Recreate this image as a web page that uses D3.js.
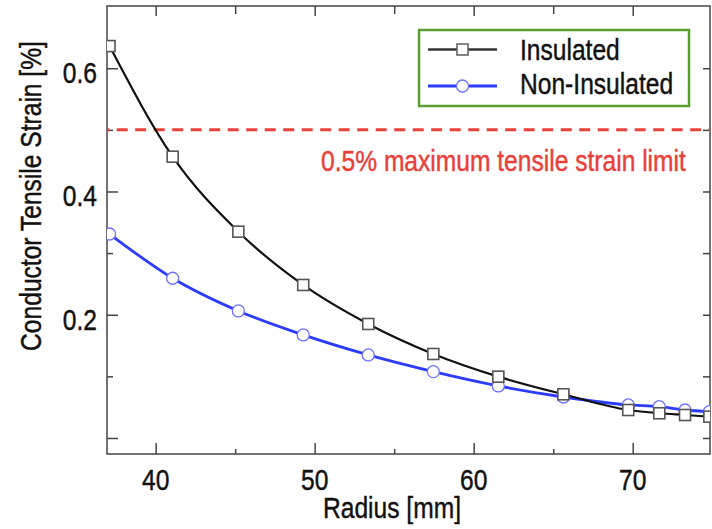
<!DOCTYPE html>
<html><head><meta charset="utf-8">
<script src="https://cdn.jsdelivr.net/npm/d3@7/dist/d3.min.js"></script>
<style>
html,body{margin:0;padding:0;background:#fff;}
svg{display:block;}
text{font-family:"Liberation Sans",Arial,Helvetica,sans-serif;}
</style></head>
<body>
<svg id="chart" width="712" height="529"></svg>
<script>
// ---- data ----
const radius = [37.1, 41.07, 45.2, 49.28, 53.37, 57.46, 61.55, 65.64, 69.72, 71.67, 73.29, 74.82];
const insulated = [0.636, 0.4565, 0.3348, 0.2483, 0.185, 0.1363, 0.0995, 0.0709, 0.0454, 0.0401, 0.0373, 0.0346];
const nonInsulated = [0.331, 0.2592, 0.2061, 0.1672, 0.1347, 0.1076, 0.0844, 0.0665, 0.0536, 0.0508, 0.0454, 0.0427];
const strainLimit = 0.5;
const xMajorTicks = [40, 50, 60, 70];
const xMinorTicks = [45, 55, 65];
const yMajorTicks = [0, 0.2, 0.4, 0.6];
const yMinorTicks = [0.1, 0.3, 0.5];
const yTickLabels = [0.2, 0.4, 0.6];
const seriesNames = ["Insulated", "Non-Insulated"];
const limitLabel = "0.5% maximum tensile strain limit";
const xTitle = "Radius [mm]";
const yTitle = "Conductor Tensile Strain [%]";

// ---- layout ----
const L = 107, R = 710, T = 6, B = 454;
const FS = 30, SX = 0.82;
const svg = d3.select("#chart");
const x = d3.scaleLinear().domain([36.94, 74.86]).range([L, R]);
const y = d3.scaleLinear().domain([-0.026, 0.701]).range([B, T]);

function stxt(parent, px, py, str, anchor, color, extra) {
  const g = parent.append("g").attr("transform", `translate(${px},${py}) ${extra||""} scale(${SX},1)`);
  g.append("text").attr("x", 0).attr("y", 0).attr("text-anchor", anchor)
    .attr("font-size", FS).attr("fill", color)
    .attr("stroke", color).attr("stroke-width", 0.45).text(str);
  return g;
}

svg.append("defs").append("clipPath").attr("id", "clip")
  .append("rect").attr("x", L).attr("y", T).attr("width", R - L).attr("height", B - T);

// ---- ticks via axes ----
function tickAxis(axisGen, tr) {
  const g = svg.append("g").attr("transform", tr).call(axisGen);
  g.select(".domain").remove();
  g.selectAll(".tick line").attr("stroke", "#444").attr("stroke-width", 1.5);
  g.selectAll(".tick text").remove();
  return g;
}
tickAxis(d3.axisBottom(x).tickValues(xMajorTicks).tickSize(-11), `translate(0,${B})`);
tickAxis(d3.axisBottom(x).tickValues(xMinorTicks).tickSize(-5), `translate(0,${B})`);
tickAxis(d3.axisTop(x).tickValues(xMajorTicks).tickSize(-10), `translate(0,${T})`);
tickAxis(d3.axisTop(x).tickValues(xMinorTicks).tickSize(-8), `translate(0,${T})`);
tickAxis(d3.axisLeft(y).tickValues(yMajorTicks).tickSize(-11), `translate(${L},0)`);
tickAxis(d3.axisLeft(y).tickValues(yMinorTicks).tickSize(-6), `translate(${L},0)`);
tickAxis(d3.axisRight(y).tickValues(yMajorTicks.concat(yMinorTicks)).tickSize(-7), `translate(${R},0)`);

// frame
svg.append("rect").attr("x", L).attr("y", T).attr("width", R - L).attr("height", B - T)
  .attr("fill", "none").attr("stroke", "#444").attr("stroke-width", 1.5);

// tick labels
xMajorTicks.forEach(v => stxt(svg, x(v), B + 36, String(v), "middle", "#111"));
yTickLabels.forEach(v => stxt(svg, L - 10, y(v) + 15, d3.format(".1f")(v), "end", "#111"));

// axis titles
stxt(svg, 392, 518, xTitle, "middle", "#111");
stxt(svg, 41, 196, yTitle, "middle", "#111", "rotate(-90)");

// limit line
svg.append("line").attr("x1", L).attr("x2", R).attr("y1", y(strainLimit)).attr("y2", y(strainLimit))
  .attr("stroke", "#e8403a").attr("stroke-width", 3).attr("stroke-dasharray", "11,7.5")
  .attr("stroke-dashoffset", 8.8);
stxt(svg, 321, 171, limitLabel, "start", "#e8403a");

// series
const plot = svg.append("g").attr("clip-path", "url(#clip)");
const line = d3.line().x(d => x(d[0])).y(d => y(d[1])).curve(d3.curveMonotoneX);
const dIns = radius.map((r, i) => [r, insulated[i]]);
const dNon = radius.map((r, i) => [r, nonInsulated[i]]);

plot.append("path").datum(dNon).attr("d", line).attr("fill", "none")
  .attr("stroke", "#2b3bff").attr("stroke-width", 2.8);
plot.selectAll(".c").data(dNon).enter().append("circle")
  .attr("cx", d => x(d[0])).attr("cy", d => y(d[1])).attr("r", 6)
  .attr("fill", "#fff").attr("stroke", "#6e72ff").attr("stroke-width", 1.3);

plot.append("path").datum(dIns).attr("d", line).attr("fill", "none")
  .attr("stroke", "#111").attr("stroke-width", 2.2);
plot.selectAll(".s").data(dIns).enter().append("rect")
  .attr("x", d => x(d[0]) - 5.5).attr("y", d => y(d[1]) - 5.5).attr("width", 11).attr("height", 11)
  .attr("fill", "#fff").attr("stroke", "#555").attr("stroke-width", 1.6);

// legend
const lg = svg.append("g");
lg.append("rect").attr("x", 419).attr("y", 30).attr("width", 270).attr("height", 76)
  .attr("fill", "#fff").attr("stroke", "#5a9e2f").attr("stroke-width", 2.5);
const rows = [
  {name: seriesNames[0], y: 49.5, stroke: "#333", w: 2.5, mark: "sq"},
  {name: seriesNames[1], y: 86, stroke: "#2b3bff", w: 2.8, mark: "ci"}
];
rows.forEach((r, i) => {
  lg.append("line").attr("x1", 428).attr("x2", 497).attr("y1", r.y).attr("y2", r.y)
    .attr("stroke", r.stroke).attr("stroke-width", r.w);
  if (r.mark === "sq") {
    lg.append("rect").attr("x", 457).attr("y", r.y - 5.5).attr("width", 11).attr("height", 11)
      .attr("fill", "#fff").attr("stroke", "#666").attr("stroke-width", 1.6);
  } else {
    lg.append("circle").attr("cx", 462.5).attr("cy", r.y).attr("r", 6)
      .attr("fill", "#fff").attr("stroke", "#6e72ff").attr("stroke-width", 1.3);
  }
  stxt(lg, 520, i === 0 ? 59.5 : 93.5, r.name, "start", "#111");
});
</script>
</body></html>
